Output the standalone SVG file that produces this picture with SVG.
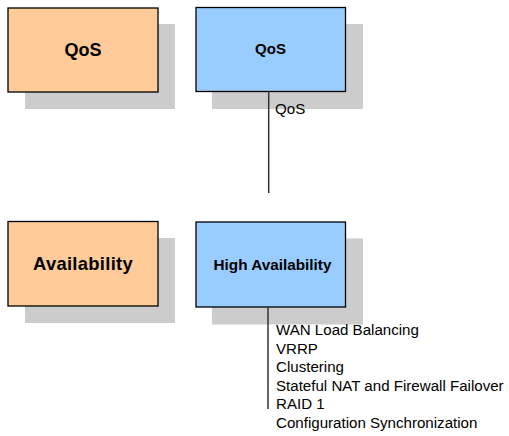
<svg xmlns="http://www.w3.org/2000/svg" width="509" height="436" viewBox="0 0 509 436">
<style>
.sh{fill:#cccccc}
.or{fill:#ffcc99;stroke:#000;stroke-width:1.3}
.bl{fill:#99ccff;stroke:#000;stroke-width:1.3}
.t{font-family:"Liberation Sans",Arial,sans-serif;font-weight:bold;fill:#000;text-anchor:middle}
.l{font-family:"Liberation Sans",Arial,sans-serif;font-size:15.1px;fill:#000}
.c{stroke:#333;stroke-width:1.5;fill:none}
</style>
<rect width="509" height="436" fill="#fff"/>
<g id="node-qos-cat">
<rect class="sh" x="25" y="24" width="150" height="85"/>
<rect class="or" x="8" y="8" width="150" height="84"/>
<text class="t" x="83" y="56" font-size="18">QoS</text>
</g>
<g id="node-qos">
<rect class="sh" x="212" y="24" width="151" height="85"/>
<rect class="bl" x="196" y="7.5" width="149.5" height="84"/>
<text class="t" x="270.5" y="54" font-size="15">QoS</text>
</g>
<g id="node-avail-cat">
<rect class="sh" x="25" y="238" width="150" height="85"/>
<rect class="or" x="8" y="221.5" width="150" height="84.5"/>
<text class="t" x="83" y="270" font-size="18.4" letter-spacing="0.3">Availability</text>
</g>
<g id="node-ha">
<rect class="sh" x="212" y="238.5" width="151" height="86"/>
<rect class="bl" x="196" y="222" width="149.5" height="85"/>
<text class="t" x="272.5" y="270" font-size="15.3">High Availability</text>
</g>
<g id="connectors">
<line class="c" x1="268.7" y1="91" x2="268.7" y2="193"/>
<text class="l" x="275" y="114">QoS</text>
<line class="c" x1="268" y1="307" x2="268" y2="409"/>
<text class="l" x="276" y="335">WAN Load Balancing</text>
<text class="l" x="276" y="353.5">VRRP</text>
<text class="l" x="276" y="372">Clustering</text>
<text class="l" x="276" y="390.5">Stateful NAT and Firewall Failover</text>
<text class="l" x="276" y="409">RAID 1</text>
<text class="l" x="276" y="427.5">Configuration Synchronization</text>
</g>
</svg>
